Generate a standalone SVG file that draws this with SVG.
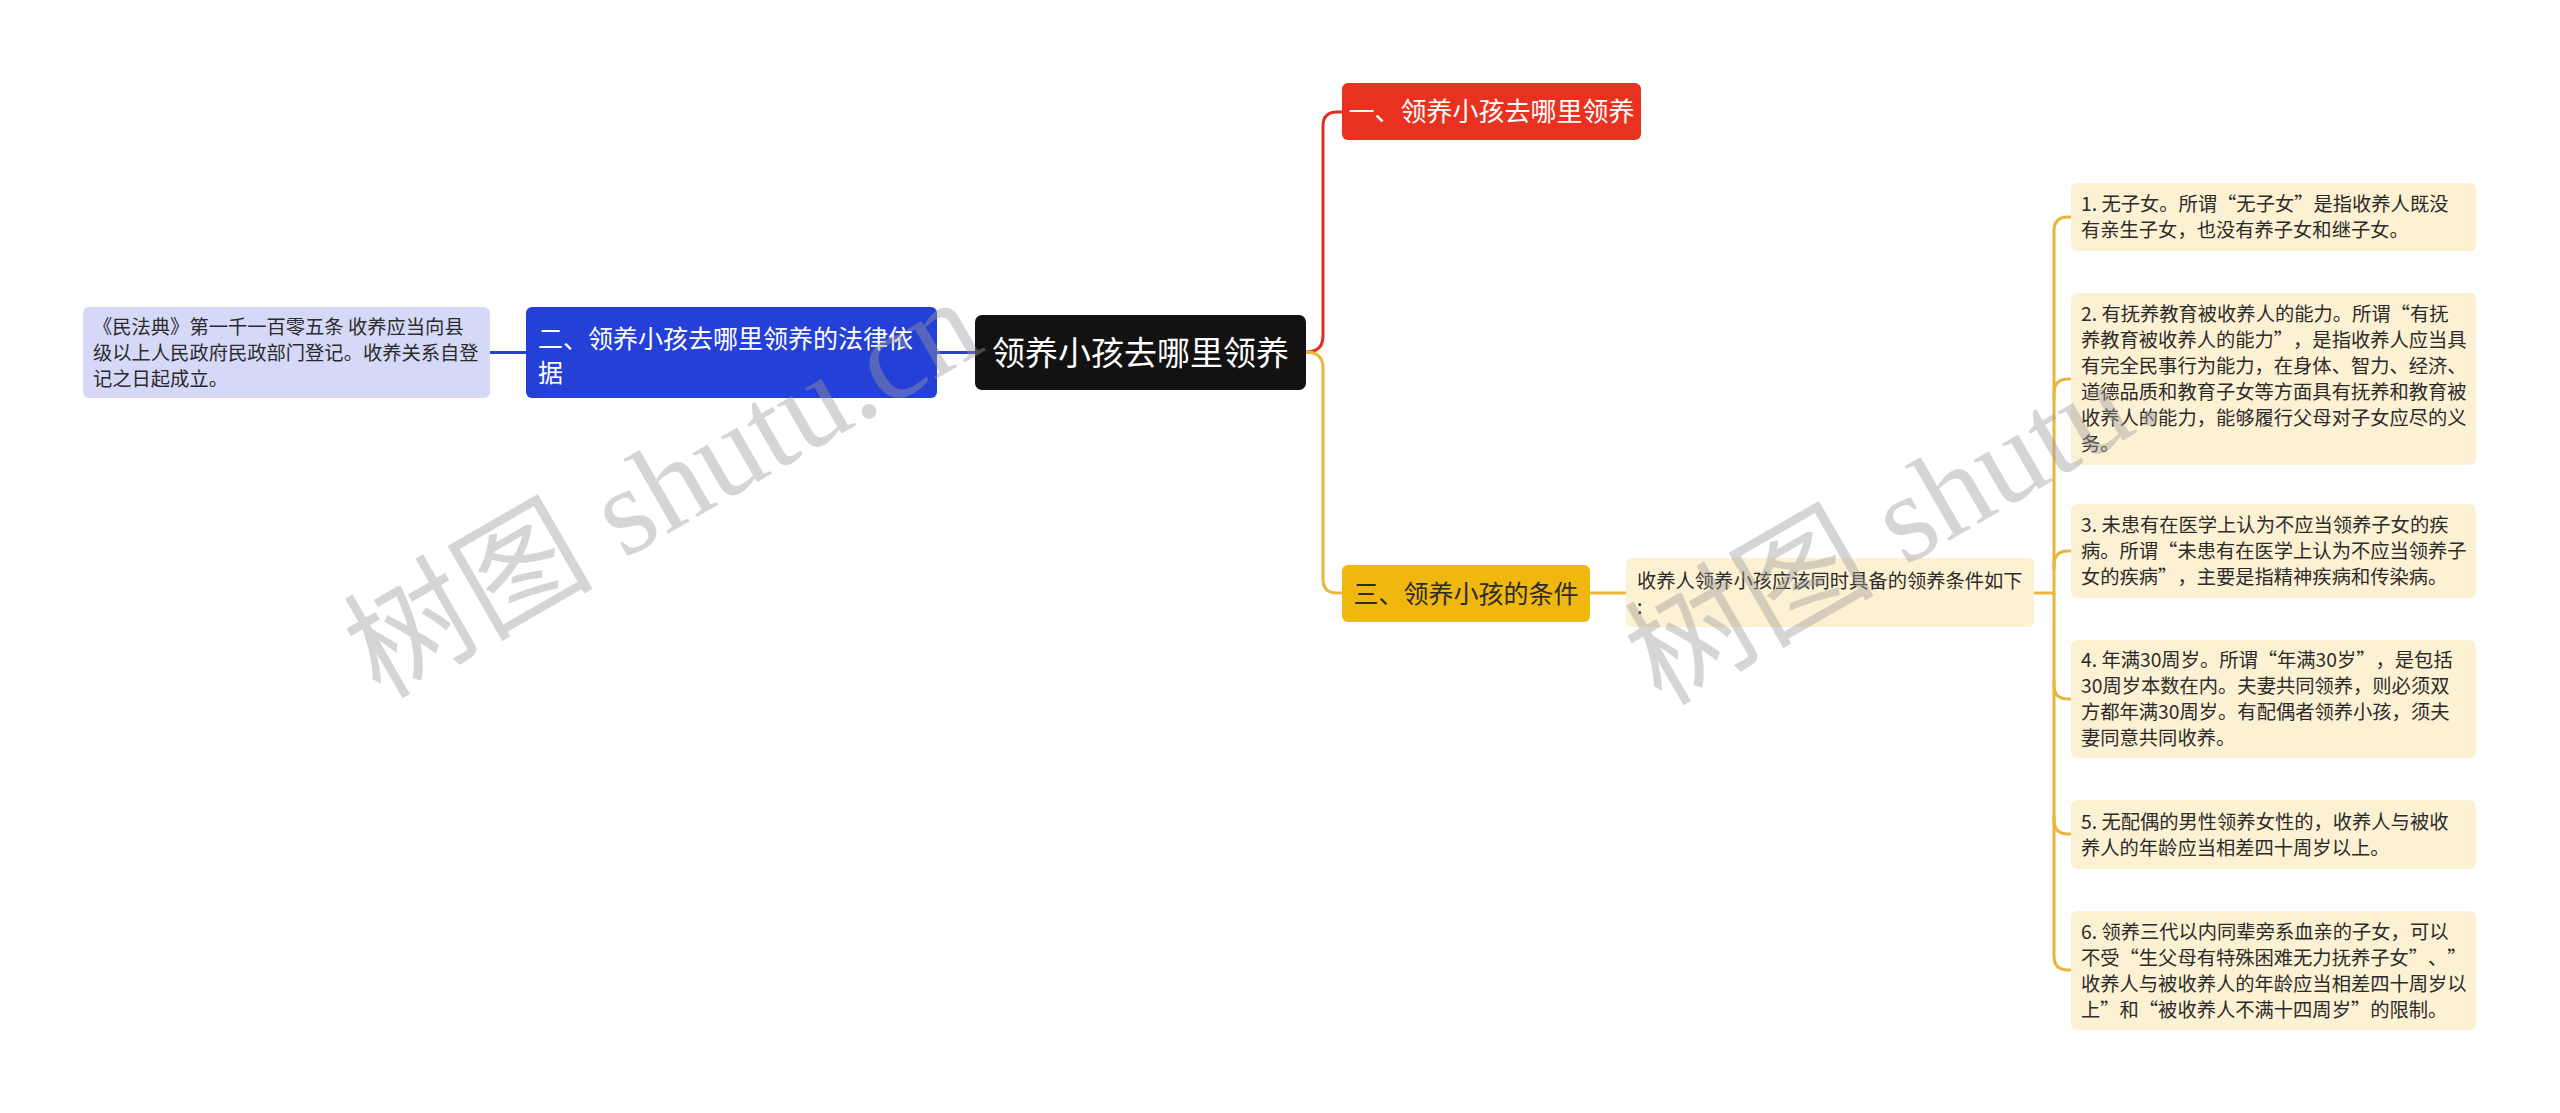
<svg xmlns="http://www.w3.org/2000/svg" width="2560" height="1113" viewBox="0 0 2560 1113">
<style>
text{font-family:"Noto Sans CJK SC","Liberation Sans",sans-serif;text-spacing-trim:space-all;font-feature-settings:"chws" 0,"halt" 0;}
.w{fill:#ffffff;}
.d{fill:#2b2b2b;font-size:19.3px;}
.leaf{fill:#fdf1d3;}
.cy{fill:none;stroke:#e9b63b;stroke-width:3;}
.wm{font-family:"Liberation Serif","Noto Sans CJK SC",serif;font-size:125px;fill:#9a9a9a;fill-opacity:0.42;}
</style>
<rect width="2560" height="1113" fill="#ffffff"/>
<g id="connectors">
<path d="M490,352.5 H526" fill="none" stroke="#2a40d2" stroke-width="3"/>
<path d="M937,352.5 H975" fill="none" stroke="#2a40d2" stroke-width="3"/>
<path d="M1306,352 Q1323,352 1323,336 V126 Q1323,112 1337,112 H1342" fill="none" stroke="#e0311f" stroke-width="3"/>
<path class="cy" d="M1306,352 Q1323,352 1323,368 V579 Q1323,593 1337,593 H1342"/>
<path class="cy" d="M1590,593 H1626"/>
<path class="cy" d="M2034,593 H2054 V231 Q2054,217 2068,217 H2071"/>
<path class="cy" d="M2054,400 V393 Q2054,379 2068,379 H2071"/>
<path class="cy" d="M2054,570 V565 Q2054,551 2068,551 H2071"/>
<path class="cy" d="M2054,593 V956 Q2054,970 2068,970 H2071"/>
<path class="cy" d="M2054,680 V685 Q2054,699 2068,699 H2071"/>
<path class="cy" d="M2054,815 V820 Q2054,834 2068,834 H2071"/>
</g>
<g id="root">
<rect x="975" y="315" width="331" height="75" rx="7" fill="#121212"/>
<text class="w" x="1140.5" y="365" font-size="33" text-anchor="middle">领养小孩去哪里领养</text>
</g>
<g id="n1">
<rect x="1342" y="83" width="299" height="57" rx="6" fill="#e8321f"/>
<text class="w" x="1491.5" y="121" font-size="26" text-anchor="middle">一、领养小孩去哪里领养</text>
</g>
<g id="n2">
<rect x="526" y="307" width="411" height="91" rx="6" fill="#2540d6"/>
<text class="w" font-size="25"><tspan x="538" y="347.5">二、领养小孩去哪里领养的法律依</tspan><tspan x="538" y="381.5">据</tspan></text>
</g>
<g id="n2a">
<rect x="83" y="307" width="407" height="91" rx="6" fill="#d5d9f7"/>
<text class="d"><tspan x="93" y="334">《民法典》第一千一百零五条 收养应当向县</tspan><tspan x="93" y="360">级以上人民政府民政部门登记。收养关系自登</tspan><tspan x="93" y="386">记之日起成立。</tspan></text>
</g>
<g id="n3">
<rect x="1342" y="565" width="248" height="57" rx="6" fill="#f0b70e"/>
<text x="1466" y="603" font-size="25" fill="#2b2b2b" text-anchor="middle">三、领养小孩的条件</text>
</g>
<g id="n3a">
<rect class="leaf" x="1626" y="558" width="408" height="69" rx="6"/>
<text class="d"><tspan x="1637" y="588">收养人领养小孩应该同时具备的领养条件如下</tspan><tspan x="1637" y="614">:</tspan></text>
</g>
<g id="c1">
<rect class="leaf" x="2071" y="183" width="405" height="68" rx="6"/>
<text class="d"><tspan x="2081" y="211">1. 无子女。所谓“无子女”是指收养人既没</tspan><tspan x="2081" y="237">有亲生子女，也没有养子女和继子女。</tspan></text>
</g>
<g id="c2">
<rect class="leaf" x="2071" y="293" width="405" height="172" rx="6"/>
<text class="d"><tspan x="2081" y="321">2. 有抚养教育被收养人的能力。所谓“有抚</tspan><tspan x="2081" y="347">养教育被收养人的能力”，是指收养人应当具</tspan><tspan x="2081" y="373">有完全民事行为能力，在身体、智力、经济、</tspan><tspan x="2081" y="399">道德品质和教育子女等方面具有抚养和教育被</tspan><tspan x="2081" y="425">收养人的能力，能够履行父母对子女应尽的义</tspan><tspan x="2081" y="451">务。</tspan></text>
</g>
<g id="c3">
<rect class="leaf" x="2071" y="504" width="405" height="94" rx="6"/>
<text class="d"><tspan x="2081" y="532">3. 未患有在医学上认为不应当领养子女的疾</tspan><tspan x="2081" y="558">病。所谓“未患有在医学上认为不应当领养子</tspan><tspan x="2081" y="584">女的疾病”，主要是指精神疾病和传染病。</tspan></text>
</g>
<g id="c4">
<rect class="leaf" x="2071" y="640" width="405" height="118" rx="6"/>
<text class="d"><tspan x="2081" y="667">4. 年满30周岁。所谓“年满30岁”，是包括</tspan><tspan x="2081" y="693">30周岁本数在内。夫妻共同领养，则必须双</tspan><tspan x="2081" y="719">方都年满30周岁。有配偶者领养小孩，须夫</tspan><tspan x="2081" y="745">妻同意共同收养。</tspan></text>
</g>
<g id="c5">
<rect class="leaf" x="2071" y="800" width="405" height="69" rx="6"/>
<text class="d"><tspan x="2081" y="828.5">5. 无配偶的男性领养女性的，收养人与被收</tspan><tspan x="2081" y="854.5">养人的年龄应当相差四十周岁以上。</tspan></text>
</g>
<g id="c6">
<rect class="leaf" x="2071" y="911" width="405" height="119" rx="6"/>
<text class="d"><tspan x="2081" y="938.5">6. 领养三代以内同辈旁系血亲的子女，可以</tspan><tspan x="2081" y="964.5">不受“生父母有特殊困难无力抚养子女”、”</tspan><tspan x="2081" y="990.5">收养人与被收养人的年龄应当相差四十周岁以</tspan><tspan x="2081" y="1016.5">上”和“被收养人不满十四周岁”的限制。</tspan></text>
</g>
<g id="watermarks">
<text class="wm" transform="translate(380,700) rotate(-30)">树图 shutu.cn</text>
<text class="wm" transform="translate(1661,707) rotate(-30)">树图 shutu.</text>
</g>
</svg>
